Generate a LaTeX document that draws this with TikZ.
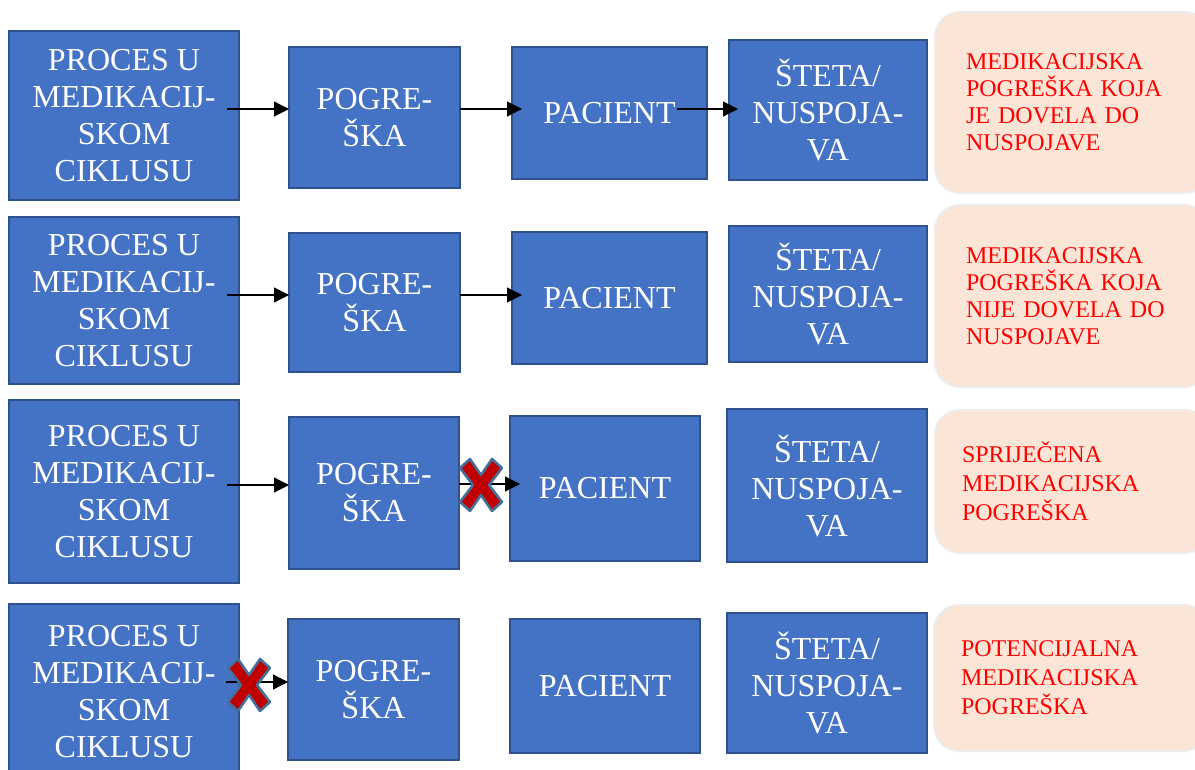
\documentclass[tikz,border=0pt]{standalone}
\usepackage{fontspec}
\setmainfont{Liberation Serif}
\usetikzlibrary{arrows.meta}

\definecolor{boxblue}{HTML}{4472C4}
\definecolor{boxedge}{HTML}{2F528F}
\definecolor{notefill}{HTML}{FBE5D6}
\definecolor{noteedge}{HTML}{EDEDED}
\definecolor{crossred}{HTML}{C00000}
\definecolor{crossedge}{HTML}{41719C}

\begin{document}
\begin{tikzpicture}[x=1pt, y=-1pt,
    stage/.style={draw=boxedge, fill=boxblue, line width=2pt, text=white, align=center,
        inner sep=0pt, outer sep=0pt, font=\fontsize{32}{37}\selectfont},
    note/.style={draw=noteedge, fill=notefill, line width=2pt, rounded corners=25pt,
        text=red, align=left, anchor=west, inner ysep=0pt, outer sep=0pt},
    flow/.style={line width=1.2pt, -{Triangle[length=15pt,width=15pt]}},
    redx/.pic={\filldraw[fill=crossred, draw=crossedge, line width=2.5pt, line join=round]
        (-11,-26) -- (0,-10) -- (11,-26) -- (21,-17) -- (8,0) -- (21,17) -- (11,26)
        -- (0,10) -- (-11,26) -- (-21,17) -- (-8,0) -- (-21,-17) -- cycle;}
]
    % Page
    \fill[white] (0,0) rectangle (1195,770);
    \useasboundingbox (0,0) rectangle (1195,770);
    \clip (0,0) rectangle (1195,770);

    % Row 1: error that reached the patient and caused harm
    \node[stage, minimum width=230pt, minimum height=169pt] (proc1) at (124,115.5) {PROCES U\\MEDIKACIJ-\\SKOM\\CIKLUSU};
    \node[stage, minimum width=171pt, minimum height=141pt] (err1) at (374.5,117.5) {POGRE-\\ŠKA};
    \node[stage, minimum width=195pt, minimum height=132pt] (pat1) at (609.5,113) {PACIENT};
    \node[stage, minimum width=198pt, minimum height=140pt] (harm1) at (828,110) {ŠTETA/\\NUSPOJA-\\VA};
    \node[note, text width=213pt, inner xsep=31pt, minimum height=181pt, font=\fontsize{24}{27}\selectfont] (note1) at (935,102.5)
        {MEDIKACIJSKA\\POGREŠKA KOJA\\JE DOVELA DO\\NUSPOJAVE};

    \draw[flow] ([xshift=-12pt,yshift=6.5pt]proc1.east) -- ([yshift=8.5pt]err1.west);
    \draw[flow] ([yshift=8.5pt]err1.east) -- ([xshift=10pt,yshift=4pt]pat1.west);
    \draw[flow] ([xshift=-30pt,yshift=4pt]pat1.east) -- ([xshift=9pt,yshift=1pt]harm1.west);

    % Row 2: error that reached the patient, no harm
    \node[stage, minimum width=230pt, minimum height=167pt] (proc2) at (124,300.5) {PROCES U\\MEDIKACIJ-\\SKOM\\CIKLUSU};
    \node[stage, minimum width=171pt, minimum height=139pt] (err2) at (374.5,302.5) {POGRE-\\ŠKA};
    \node[stage, minimum width=195pt, minimum height=132pt] (pat2) at (609.5,298) {PACIENT};
    \node[stage, minimum width=198pt, minimum height=136pt] (harm2) at (828,294) {ŠTETA/\\NUSPOJA-\\VA};
    \node[note, text width=213pt, inner xsep=31pt, minimum height=182pt, font=\fontsize{24}{27}\selectfont] (note2) at (935,296)
        {MEDIKACIJSKA\\POGREŠKA KOJA\\NIJE DOVELA DO\\NUSPOJAVE};

    \draw[flow] ([xshift=-12pt,yshift=5.5pt]proc2.east) -- ([yshift=7.5pt]err2.west);
    \draw[flow] ([yshift=7.5pt]err2.east) -- ([xshift=10pt,yshift=3pt]pat2.west);

    % Row 3: prevented error
    \node[stage, minimum width=230pt, minimum height=183pt] (proc3) at (124,491.5) {PROCES U\\MEDIKACIJ-\\SKOM\\CIKLUSU};
    \node[stage, minimum width=170pt, minimum height=152pt] (err3) at (374,493) {POGRE-\\ŠKA};
    \node[stage, minimum width=190pt, minimum height=145pt] (pat3) at (605,488.5) {PACIENT};
    \node[stage, minimum width=200pt, minimum height=153pt] (harm3) at (827,485.5) {ŠTETA/\\NUSPOJA-\\VA};
    \node[note, text width=221pt, inner xsep=27pt, minimum height=143pt, font=\fontsize{24}{29}\selectfont] (note3) at (935,481.5)
        {SPRIJEČENA\\MEDIKACIJSKA\\POGREŠKA};

    \draw[flow] ([xshift=-12pt,yshift=6.5pt]proc3.east) -- ([yshift=8pt]err3.west);
    \draw[flow] ([yshift=9pt]err3.east) -- ([xshift=10pt,yshift=4.5pt]pat3.west);
    \pic (stop3) at (481,485) {redx};

    % Row 4: potential error
    \node[stage, minimum width=230pt, minimum height=176pt] (proc4) at (124,692) {PROCES U\\MEDIKACIJ-\\SKOM\\CIKLUSU};
    \node[stage, minimum width=171pt, minimum height=141pt] (err4) at (373.5,689.5) {POGRE-\\ŠKA};
    \node[stage, minimum width=190pt, minimum height=134pt] (pat4) at (605,686) {PACIENT};
    \node[stage, minimum width=200pt, minimum height=140pt] (harm4) at (827,683) {ŠTETA/\\NUSPOJA-\\VA};
    \node[note, text width=221pt, inner xsep=27pt, minimum height=146pt, font=\fontsize{24}{29}\selectfont] (note4) at (934,678)
        {POTENCIJALNA\\MEDIKACIJSKA\\POGREŠKA};

    \draw[flow] ([xshift=-13pt,yshift=10pt]proc4.east) -- ([yshift=7.5pt]err4.west);
    \pic (stop4) at (249,685) {redx};

\end{tikzpicture}
\end{document}
